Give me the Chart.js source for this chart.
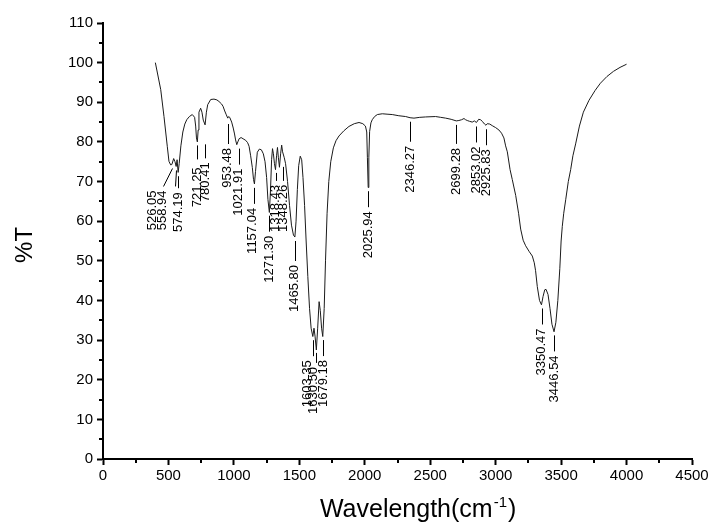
<!DOCTYPE html>
<html>
<head>
<meta charset="utf-8">
<script src="https://cdn.jsdelivr.net/npm/chart.js@4.4.1/dist/chart.umd.min.js"></script>
<style>
    html,body{margin:0;padding:0;background:#fff;}
    #wrap{width:715px;height:527px;}
</style>
</head>
<body>
<div id="wrap"><canvas id="ir_chart" width="715" height="527"></canvas></div>
<script>
// spectrum (wavenumber cm-1 / %T)
const wavenumber = [400,441,466,491,504,517,526,540,550,559,566,574,582,595,610,625,640,660,682,700,708,714,721,727,733,746,756,766,780,790,800,823,848,870,886,905,917,930,940,953,960,968,983,995,1005,1013,1022,1030,1040,1055,1070,1090,1105,1116,1128,1141,1150,1157,1165,1179,1195,1210,1225,1238,1250,1260,1271,1280,1288,1295,1302,1310,1318,1326,1333,1340,1348,1357,1365,1372,1385,1395,1410,1425,1440,1455,1466,1475,1485,1495,1507,1518,1528,1540,1552,1565,1578,1590,1603,1612,1620,1630,1640,1651,1660,1670,1679,1690,1700,1712,1725,1740,1760,1780,1803,1840,1879,1920,1956,1985,2005,2015,2020,2026,2031,2037,2047,2057,2075,2096,2134,2170,2210,2260,2312,2346,2376,2420,2465,2541,2580,2618,2660,2699,2719,2740,2758,2770,2783,2800,2821,2837,2853,2870,2885,2900,2915,2926,2936,2955,2974,3000,3025,3045,3063,3076,3089,3110,3127,3153,3175,3191,3210,3229,3255,3280,3295,3305,3318,3335,3350,3362,3375,3385,3400,3415,3430,3446,3460,3475,3490,3500,3509,3520,3535,3555,3573,3590,3611,3640,3670,3713,3760,3800,3850,3900,3950,4000];
const transmittance = [100,93.2,86.4,78.9,75.1,74.2,74.3,75.8,75,73.8,75.5,72.3,74.5,79,82.5,84.5,85.6,86.4,86.9,86.2,84,81,80,83,87.5,88.5,87.5,85.5,84.3,87.5,89.4,90.7,90.8,90.6,90.2,89.6,89,87.8,87,86,86.4,86.2,85,83.5,82,80.5,79.3,80,80.8,81.1,80.8,80.4,79.8,78.9,76.5,73.5,70.5,69.4,72.5,77.4,78.2,78,77,75,71,65.5,62.2,68,75.5,78.3,77,74.5,73,76.5,78.6,76,73.6,77,79.2,77.5,76,74.5,70,64,59,56.5,56,60,68,74,76.4,75.5,71,64,55,46,38,33,30.9,33,31,27.5,33,39.7,37.5,33,30.9,38,50,62,70,75,78.5,80.3,81.5,82.8,83.9,84.6,84.9,84.6,84,82.5,76,68.5,76,82.6,84.8,85.6,86.4,86.9,87.1,87,86.9,86.6,86.4,86.1,86,86.2,86.3,86.4,86.2,86,85.7,85.3,85.4,85.6,85.9,85.6,85.4,85.2,85,85.3,84.9,85.7,85.6,85.1,84.5,84.2,84.6,84.5,84.1,83.6,83,82.2,81,79,77.5,73,70.5,66.5,62,58,55.2,53.8,52.4,51.2,49.5,47.5,43.5,40,38.9,41,42.7,42.8,41.5,38,34,32.1,34.5,40,48,55,58.7,62,65.4,70,73,76.5,79.5,84,87.5,90.5,93,94.8,96.5,97.8,98.8,99.6];

const peakPositions = [526.05,558.94,574.19,721.25,780.41,953.48,1021.91,1157.04,1271.30,1318.43,1348.26,1465.80,1603.35,1630.50,1679.18,2025.94,2346.27,2699.28,2853.02,2925.83,3350.47,3446.54];
const peakLabels = ['526.05','558.94','574.19','721.25','780.41','953.48','1021.91','1157.04','1271.30','1318.43','1348.26','1465.80','1603.35','1630.50','1679.18','2025.94','2346.27','2699.28','2853.02','2925.83','3350.47','3446.54'];

const xTicks = [0,500,1000,1500,2000,2500,3000,3500,4000,4500];
const yTicks = [0,10,20,30,40,50,60,70,80,90,100,110];

const xTitle = 'Wavelength(cm', xTitleSup = '-1', xTitleEnd = ')';
const yTitle = '%T';

// where a label sits relative to its peak (px)
const peakLayout = {
    '526.05': {lineDx:-9, textDx:-19, len:18},
    '558.94': {lineDx:-1, textDx:-14, len:16},
    '574.19': {len:12},
    '721.25': {len:14, textGap:8},
    '780.41': {gap:20, len:14},
    '953.48': {gap:6, len:20},
    '1021.91': {dx:2},
    '1157.04': {textDx:-2},
    '1318.43': {len:8},
    '1348.26': {dx:4, gap:0, len:14},
    '1465.80': {len:20},
    '1603.35': {textDx:-5},
    '1630.50': {len:10, textDx:-3},
    '1679.18': {textDx:1},
    '2346.27': {len:20},
    '2699.28': {len:19}
};

const FONT = '"Liberation Sans", Arial, sans-serif';

function valueAt(wl){
    for(let i=1;i<wavenumber.length;i++){
        if(wavenumber[i]>=wl){
            const a = wavenumber[i-1], b = wavenumber[i];
            return transmittance[i-1]+(transmittance[i]-transmittance[i-1])*(wl-a)/(b-a);
        }
    }
    return transmittance[transmittance.length-1];
}

const peakLabelPlugin = {
    id: 'peakLabels',
    afterDatasetsDraw(chart){
        const {ctx} = chart, x = chart.scales.x, y = chart.scales.y;
        ctx.save();
        ctx.font = '13px '+FONT;
        ctx.fillStyle = '#000';
        ctx.strokeStyle = '#000';
        ctx.lineWidth = 1;
        for(let i in peakPositions){
            const l = Object.assign({dx:0,gap:4,len:16,lineDx:0,textDx:0,textGap:4}, peakLayout[peakLabels[i]]||{});
            const px = x.getPixelForValue(peakPositions[i])+l.dx,
            py = y.getPixelForValue(valueAt(peakPositions[i]));
            const y0 = py+l.gap, y1 = y0+l.len;
            ctx.beginPath();
            ctx.moveTo(Math.round(px)+0.5, y0);
            ctx.lineTo(Math.round(px+l.lineDx)+0.5, y1);
            ctx.stroke();
            ctx.save();
            ctx.translate(px+l.textDx, y1+l.textGap);
            ctx.rotate(-Math.PI/2);
            ctx.textAlign = 'right';
            ctx.textBaseline = 'middle';
            ctx.fillText(peakLabels[i],0,0);
            ctx.restore();
        }
        ctx.restore();
    }
};

// short minor ticks half way between the major ones, plus the axis titles
const axisExtrasPlugin = {
    id: 'axisExtras',
    afterDraw(chart){
        const {ctx, chartArea} = chart, x = chart.scales.x, y = chart.scales.y;
        ctx.save();
        ctx.strokeStyle = '#000';
        ctx.lineWidth = 2;
        ctx.beginPath();
        for(let i=1;i<xTicks.length;i++){
            const px = Math.round(x.getPixelForValue((xTicks[i-1]+xTicks[i])/2));
            ctx.moveTo(px, chartArea.bottom);
            ctx.lineTo(px, chartArea.bottom+4);
        }
        for(let i=1;i<yTicks.length;i++){
            const py = Math.round(y.getPixelForValue((yTicks[i-1]+yTicks[i])/2));
            ctx.moveTo(chartArea.left, py);
            ctx.lineTo(chartArea.left-4, py);
        }
        ctx.stroke();

        ctx.fillStyle = '#000';
        ctx.textBaseline = 'alphabetic';
        ctx.textAlign = 'left';
        ctx.font = '25px '+FONT;
        const w1 = ctx.measureText(xTitle).width, w3 = ctx.measureText(xTitleEnd).width;
        ctx.font = '15px '+FONT;
        const w2 = ctx.measureText(xTitleSup).width;
        let tx = x.getPixelForValue(2400) - (w1+w2+w3)/2;
        const base = 517;
        ctx.font = '25px '+FONT;
        ctx.fillText(xTitle, tx, base);
        ctx.font = '15px '+FONT;
        ctx.fillText(xTitleSup, tx+w1+1, base-10);
        ctx.font = '25px '+FONT;
        ctx.fillText(xTitleEnd, tx+w1+w2+2, base);

        ctx.translate(25, y.getPixelForValue(54));
        ctx.rotate(-Math.PI/2);
        ctx.textAlign = 'center';
        ctx.textBaseline = 'middle';
        ctx.font = '24px '+FONT;
        ctx.fillText(yTitle, 0, 0);
        ctx.restore();
    }
};

new Chart(document.getElementById('ir_chart'), {
    type: 'line',
    data: {
        datasets: [{
            data: wavenumber.map((w,i)=>({x:w, y:transmittance[i]})),
            borderColor: '#1a1a1a',
            borderWidth: 1,
            pointRadius: 0,
            tension: 0,
            fill: false
        }]
    },
    options: {
        responsive: false,
        animation: false,
        devicePixelRatio: 1,
        layout: { padding: {top:23, right:23, left:0, bottom:0} },
        plugins: { legend: {display:false}, tooltip: {enabled:false} },
        scales: {
            x: {
                type: 'linear',
                min: 0, max: 4500,
                afterBuildTicks: axis => { axis.ticks = xTicks.map(v=>({value:v})); },
                afterFit: axis => { axis.height = 68; },
                grid: {drawOnChartArea:false, drawTicks:true, tickLength:6, tickWidth:2, tickColor:'#000', color:'#000'},
                border: {display:true, color:'#000', width:2},
                ticks: {color:'#000', font:{family:FONT, size:15}, padding:2, maxRotation:0, autoSkip:false, callback: v => String(v)}
            },
            y: {
                type: 'linear',
                min: 0, max: 110,
                afterBuildTicks: axis => { axis.ticks = yTicks.map(v=>({value:v})); },
                afterFit: axis => { axis.width = 103; },
                grid: {drawOnChartArea:false, drawTicks:true, tickLength:6, tickWidth:2, tickColor:'#000', color:'#000'},
                border: {display:true, color:'#000', width:2},
                ticks: {color:'#000', font:{family:FONT, size:15}, padding:4, autoSkip:false, callback: v => String(v)}
            }
        }
    },
    plugins: [peakLabelPlugin, axisExtrasPlugin]
});
</script>
</body>
</html>
